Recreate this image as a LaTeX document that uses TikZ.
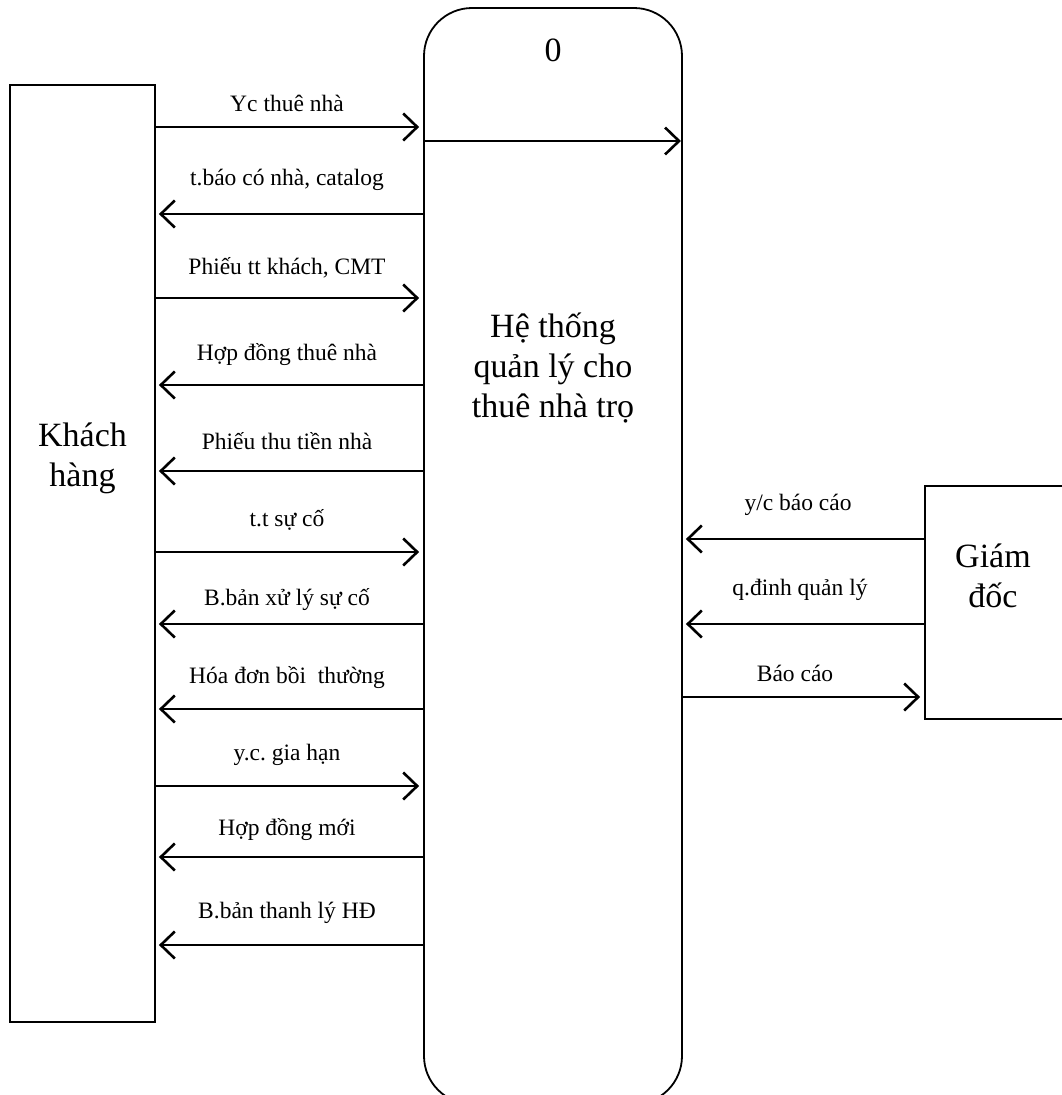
\documentclass[tikz,border=0pt]{standalone}
\usepackage{fontspec}
\setmainfont{Liberation Serif}
\frenchspacing
\usetikzlibrary{arrows.meta}
\tikzset{
  box/.style={draw, line width=1.8pt, minimum width=#1, inner sep=0pt},
  arr/.style={line width=2.6pt, -{Straight Barb[length=14pt, width=27pt, line width=2.6pt]}},
  lbl/.style={font=\fontsize{23.5}{27}\selectfont, inner sep=0pt},
  big/.style={font=\fontsize{34}{40}\selectfont, align=center, inner sep=0pt}
}
\begin{document}
\begin{tikzpicture}[x=1pt, y=-1pt]
\useasboundingbox (0,0) rectangle (1062,1095);
\clip (0,0) rectangle (1062,1095);
% boxes
\node[box=145pt, minimum height=937pt] (kh) at (82.5,553.5) {};
\node[box=258pt, minimum height=1096pt, rounded corners=48pt] (sys) at (553,556) {};
\node[box=150pt, minimum height=233pt] (gd) at (1000,602.5) {};
% texts
\node[big] (khtext) at (kh.center |- 0,458) {Khách\\hàng};
\node[big] (zero) at (553,50) {0};
\node[big] (systext) at (553,368) {Hệ thống\\quản lý cho\\thuê nhà trọ};
\node[big] (gdtext) at (993,576) {Giám\\đốc};
% Khach hang <-> system
\draw[arr, shorten >=4pt] (kh.east |- 0,127) -- (sys.west |- 0,127);
\draw[arr, shorten >=3pt] (sys.west |- 0,214) -- (kh.east |- 0,214);
\draw[arr, shorten >=4pt] (kh.east |- 0,298) -- (sys.west |- 0,298);
\draw[arr, shorten >=3pt] (sys.west |- 0,385) -- (kh.east |- 0,385);
\draw[arr, shorten >=3pt] (sys.west |- 0,471) -- (kh.east |- 0,471);
\draw[arr, shorten >=4pt] (kh.east |- 0,552) -- (sys.west |- 0,552);
\draw[arr, shorten >=3pt] (sys.west |- 0,624) -- (kh.east |- 0,624);
\draw[arr, shorten >=3pt] (sys.west |- 0,709) -- (kh.east |- 0,709);
\draw[arr, shorten >=4pt] (kh.east |- 0,786) -- (sys.west |- 0,786);
\draw[arr, shorten >=3pt] (sys.west |- 0,857) -- (kh.east |- 0,857);
\draw[arr, shorten >=3pt] (sys.west |- 0,945) -- (kh.east |- 0,945);
% inner arrow
\draw[arr, shorten >=2pt] (sys.west |- 0,141) -- (sys.east |- 0,141);
% labels
\node[lbl] (l1) at (287,103) {Yc thuê nhà};
\node[lbl] (l2) at (287,180) {t.báo có nhà, catalog};
\node[lbl] (l3) at (287,268) {Phiếu tt khách, CMT};
\node[lbl] (l4) at (287,355) {Hợp đồng thuê nhà};
\node[lbl] (l5) at (287,441) {Phiếu thu tiền nhà};
\node[lbl] (l6) at (287,520) {t.t sự cố};
\node[lbl] (l7) at (287,600) {B.bản xử lý sự cố};
\node[lbl] (l8) at (287,678) {Hóa đơn bồi\ \ thường};
\node[lbl] (l9) at (287,755) {y.c. gia hạn};
\node[lbl] (l10) at (287,830) {Hợp đồng mới};
\node[lbl] (l11) at (287,913) {B.bản thanh lý HĐ};
% Giam doc <-> system
\draw[arr, shorten >=3pt] (gd.west |- 0,539) -- (sys.east |- 0,539);
\draw[arr, shorten >=3pt] (gd.west |- 0,624) -- (sys.east |- 0,624);
\draw[arr, shorten >=4pt] (sys.east |- 0,697) -- (gd.west |- 0,697);
\node[lbl] (g1) at (798,505) {y/c báo cáo};
\node[lbl] (g2) at (800,590) {q.đinh quản lý};
\node[lbl] (g3) at (795,673) {Báo cáo};
\end{tikzpicture}
\end{document}
